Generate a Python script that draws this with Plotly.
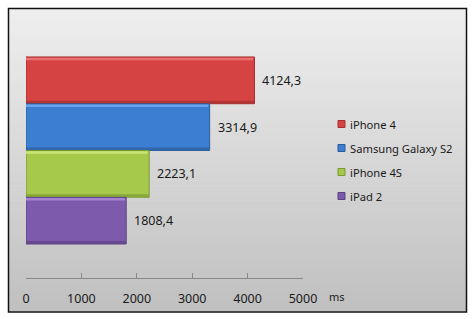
import plotly.graph_objects as go

# Benchmark results (ms) — lower is better
devices = ["iPhone 4", "Samsung Galaxy S2", "iPhone 4S", "iPad 2"]
times_ms = [4124.3, 3314.9, 2223.1, 1808.4]
fill_colors = ["#d64343", "#3c7ed1", "#a7c94b", "#7e5aad"]
light_colors = ["#ec7070", "#6aa4ea", "#c8e474", "#a683d0"]
edge_colors = ["#a52f2f", "#2b5c9c", "#7a9832", "#5c4082"]
x_ticks = [0, 1000, 2000, 3000, 4000, 5000]

W, H = 475, 319
ML, MR, MT, MB = 26, 172, 20, 41
PW, PH = W - ML - MR, H - MT - MB


def px_x(px):
    return (px - ML) / PW


def px_y(py):
    return 1 - (py - MT) / PH


# bars stacked top to bottom in the order of the list
positions = list(range(len(devices) - 1, -1, -1))
BAR_W = 1.0
STRIP = 0.055

fig = go.Figure()
fig.add_trace(go.Bar(
    x=times_ms, y=positions, orientation="h", width=BAR_W,
    marker=dict(color=fill_colors, line=dict(color=edge_colors, width=1)),
    showlegend=False, hoverinfo="skip",
))
# bevel: light strip along the top edge, darker strip along the bottom
fig.add_trace(go.Bar(
    x=[v - 25 for v in times_ms],
    y=[p + BAR_W / 2 - STRIP / 2 - 0.015 for p in positions],
    orientation="h", width=STRIP,
    marker=dict(color=light_colors, line=dict(width=0)),
    showlegend=False, hoverinfo="skip",
))
fig.add_trace(go.Bar(
    x=[v - 10 for v in times_ms],
    y=[p - BAR_W / 2 + STRIP / 2 + 0.01 for p in positions],
    orientation="h", width=STRIP,
    marker=dict(color=edge_colors, line=dict(width=0), opacity=0.7),
    showlegend=False, hoverinfo="skip",
))

# value labels in decimal-comma notation
for v, p in zip(times_ms, positions):
    fig.add_annotation(
        x=v, y=p, xref="x", yref="y",
        text=f"{v:.1f}".replace(".", ","),
        showarrow=False, xanchor="left", xshift=6,
        font=dict(family="Noto Sans", size=12.5, color="#1a1a1a"),
    )

shapes = []
# grey vertical gradient background inside the frame
n_bands = 60
top_c, bot_c = (238, 238, 238), (192, 192, 192)
y0p, y1p = 9, 311
for i in range(n_bands):
    t = i / (n_bands - 1)
    c = tuple(round(a + (b - a) * t) for a, b in zip(top_c, bot_c))
    ya = y0p + (y1p - y0p) * i / n_bands
    yb = y0p + (y1p - y0p) * (i + 1) / n_bands + 0.6
    shapes.append(dict(
        type="rect", xref="paper", yref="paper", layer="below",
        x0=px_x(9), x1=px_x(466), y0=px_y(yb), y1=px_y(ya),
        fillcolor=f"rgb{c}", line=dict(width=0),
    ))
# outer frame
shapes.append(dict(
    type="rect", xref="paper", yref="paper", layer="above",
    x0=px_x(8.5), x1=px_x(466.5), y0=px_y(312), y1=px_y(8.5),
    line=dict(color="#111111", width=1.5), fillcolor="rgba(0,0,0,0)",
))

# legend: small square swatches with labels
for i, (name, col, ec) in enumerate(zip(devices, fill_colors, edge_colors)):
    yc = 124 + 24 * i
    shapes.append(dict(
        type="rect", xref="paper", yref="paper", layer="above",
        x0=px_x(338), x1=px_x(345), y0=px_y(yc + 3.5), y1=px_y(yc - 3.5),
        fillcolor=col, line=dict(color=ec, width=1),
    ))
    fig.add_annotation(
        x=px_x(348), y=px_y(yc), xref="paper", yref="paper",
        text=name, showarrow=False, xanchor="left", yanchor="middle",
        font=dict(family="Noto Sans", size=11.2, color="#1a1a1a"),
    )

# axis unit
fig.add_annotation(
    x=px_x(327), y=px_y(296), xref="paper", yref="paper",
    text="ms", showarrow=False, xanchor="left", yanchor="middle",
    font=dict(family="Noto Sans", size=11, color="#1a1a1a"),
)

fig.update_layout(
    width=W, height=H,
    margin=dict(l=ML, r=MR, t=MT, b=MB),
    paper_bgcolor="white",
    plot_bgcolor="rgba(0,0,0,0)",
    shapes=shapes,
    barmode="overlay",
    xaxis=dict(
        range=[0, 5000], tickvals=x_ticks,
        ticktext=[str(t) for t in x_ticks],
        showgrid=False, zeroline=False,
        showline=True, linecolor="#888888", linewidth=1,
        ticks="inside", ticklen=5, tickcolor="#888888",
        ticklabelstandoff=9,
        tickfont=dict(family="Noto Sans", size=12.5, color="#1a1a1a"),
        fixedrange=True,
    ),
    yaxis=dict(
        range=[-1.227, 4.29], visible=False, fixedrange=True,
    ),
)

fig.write_html("out.html")
